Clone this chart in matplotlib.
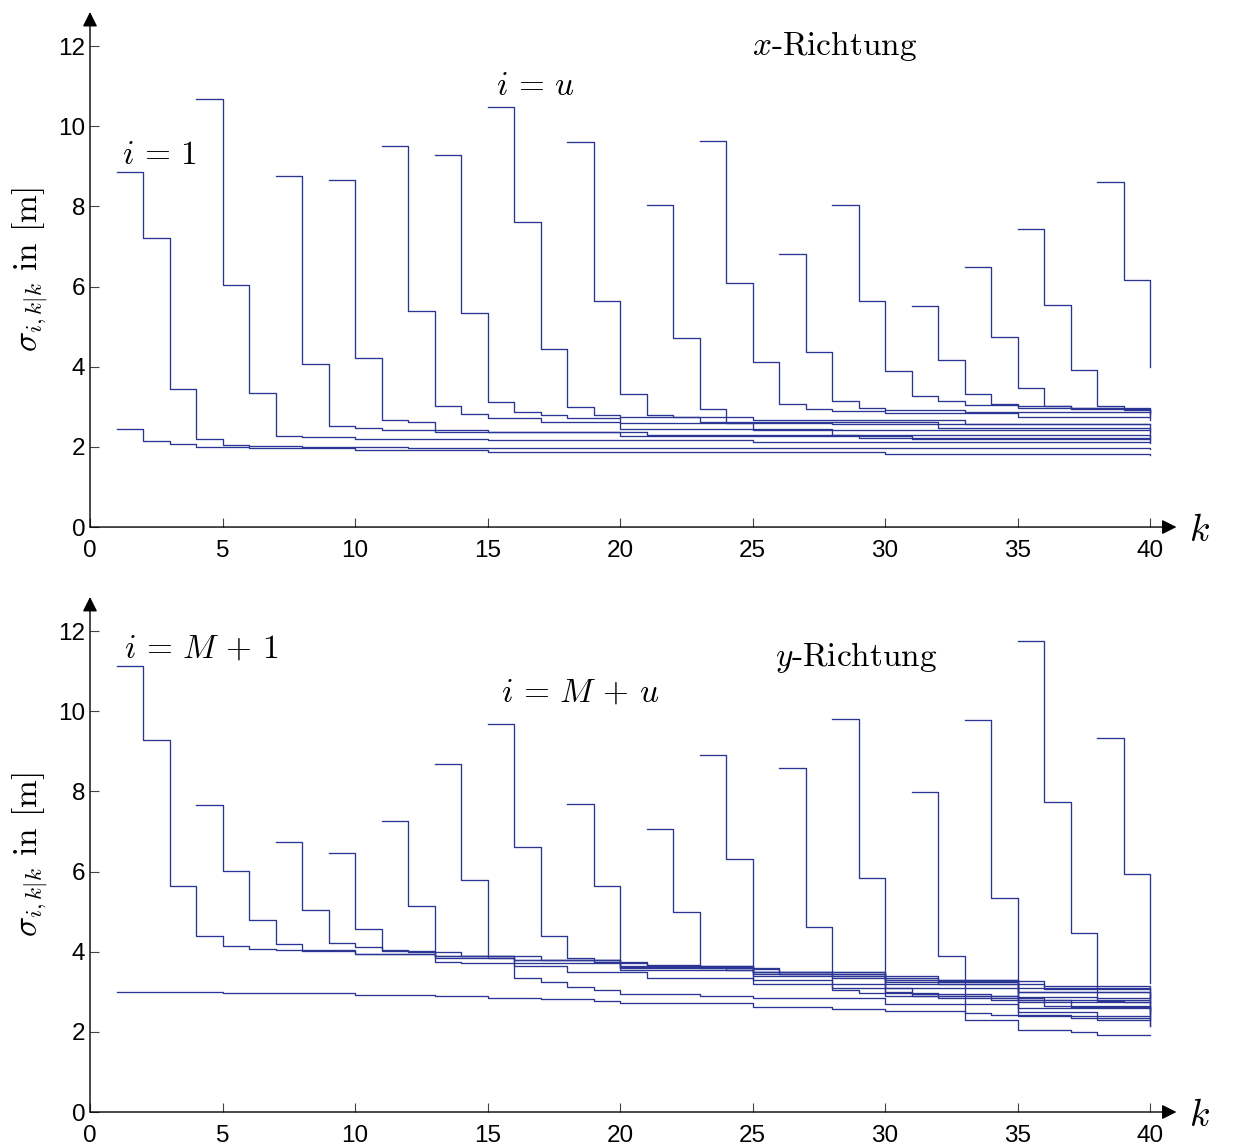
import matplotlib
matplotlib.use("Agg")
import matplotlib.pyplot as plt

# x-Richtung (top panel): each series = step breakpoints (k) and values
xL_k = [1, 2, 3, 4, 6, 10, 15, 20, 30, 40]
xL_v = [2.45, 2.15, 2.07, 2.00, 1.97, 1.92, 1.88, 1.86, 1.83, 1.80]
x01_k = [1, 2, 3, 4, 5, 6, 8, 12, 20, 30, 40]
x01_v = [8.85, 7.20, 3.45, 2.20, 2.05, 2.01, 1.99, 1.98, 1.97, 1.96, 1.95]
x04_k = [4, 5, 6, 7, 8, 10, 15, 25, 40]
x04_v = [10.68, 6.05, 3.35, 2.27, 2.24, 2.20, 2.16, 2.12, 2.10]
x07_k = [7, 8, 9, 10, 11, 13, 20, 31, 40]
x07_v = [8.75, 4.06, 2.53, 2.48, 2.42, 2.36, 2.28, 2.20, 2.13]
x09_k = [9, 10, 11, 12, 13, 15, 21, 29, 40]
x09_v = [8.67, 4.23, 2.66, 2.61, 2.42, 2.37, 2.30, 2.22, 2.17]
x11_k = [11, 12, 13, 14, 15, 17, 20, 28, 40]
x11_v = [9.50, 5.39, 3.01, 2.82, 2.72, 2.62, 2.45, 2.30, 2.21]
x13_k = [13, 14, 15, 16, 17, 18, 20, 25, 40]
x13_v = [9.27, 5.33, 3.11, 2.86, 2.80, 2.72, 2.60, 2.42, 2.25]
x15_k = [15, 16, 17, 18, 19, 20, 23, 32, 40]
x15_v = [10.47, 7.61, 4.43, 2.99, 2.80, 2.74, 2.62, 2.48, 2.37]
x18_k = [18, 19, 20, 21, 22, 25, 33, 40]
x18_v = [9.60, 5.65, 3.31, 2.79, 2.74, 2.66, 2.56, 2.45]
x21_k = [21, 22, 23, 24, 28, 34, 40]
x21_v = [8.03, 4.72, 2.94, 2.60, 2.58, 2.57, 2.56]
x23_k = [23, 24, 25, 26, 27, 28, 30, 35, 40]
x23_v = [9.63, 6.10, 4.13, 3.08, 2.95, 2.90, 2.84, 2.74, 2.66]
x26_k = [26, 27, 28, 29, 30, 33, 40]
x26_v = [6.82, 4.36, 3.15, 2.96, 2.92, 2.86, 2.75]
x28_k = [28, 29, 30, 31, 32, 33, 35, 40]
x28_v = [8.03, 5.63, 3.89, 3.28, 3.14, 3.05, 2.98, 2.80]
x31_k = [31, 32, 33, 34, 35, 37, 40]
x31_v = [5.52, 4.17, 3.33, 3.08, 3.02, 2.95, 2.85]
x33_k = [33, 34, 35, 36, 37, 39, 40]
x33_v = [6.49, 4.73, 3.46, 3.03, 2.98, 2.92, 2.88]
x35_k = [35, 36, 37, 38, 39, 40]
x35_v = [7.43, 5.55, 3.93, 3.03, 2.94, 2.92]
x38_k = [38, 39, 40]
x38_v = [8.62, 6.17, 3.99]

# y-Richtung (bottom panel)
yL_k = [1, 5, 10, 13, 15, 17, 19, 20, 25, 28, 30, 33, 35, 37, 38, 40]
yL_v = [3.00, 2.97, 2.92, 2.89, 2.85, 2.82, 2.78, 2.73, 2.63, 2.58, 2.52, 2.30, 2.05, 2.00, 1.92, 1.92]
y01_k = [1, 2, 3, 4, 5, 6, 7, 10, 13, 16, 20, 25, 28, 31, 35, 38, 40]
y01_v = [11.13, 9.28, 5.65, 4.40, 4.13, 4.06, 4.03, 3.95, 3.85, 3.72, 3.55, 3.30, 3.10, 2.90, 2.50, 2.30, 2.15]
y04_k = [4, 5, 6, 7, 8, 10, 13, 16, 20, 25, 30, 35, 40]
y04_v = [7.67, 6.01, 4.78, 4.18, 4.02, 3.95, 3.88, 3.78, 3.62, 3.45, 3.20, 2.80, 2.38]
y07_k = [7, 8, 9, 10, 11, 13, 16, 20, 25, 30, 35, 40]
y07_v = [6.73, 5.03, 4.21, 4.11, 4.02, 3.90, 3.80, 3.65, 3.50, 3.30, 3.00, 2.59]
y09_k = [9, 10, 11, 12, 14, 17, 20, 25, 30, 35, 40]
y09_v = [6.46, 4.56, 4.04, 3.98, 3.90, 3.78, 3.60, 3.40, 3.10, 2.75, 2.46]
y11_k = [11, 12, 13, 14, 16, 18, 21, 25, 30, 35, 40]
y11_v = [7.27, 5.14, 3.75, 3.72, 3.65, 3.50, 3.35, 3.20, 2.90, 2.60, 2.32]
y13_k = [13, 14, 15, 16, 17, 18, 19, 20, 23, 25, 30, 35, 40]
y13_v = [8.69, 5.79, 3.85, 3.34, 3.24, 3.11, 3.04, 2.95, 2.89, 2.85, 2.70, 2.40, 2.15]
y15_k = [15, 16, 17, 18, 19, 21, 25, 30, 35, 40]
y15_v = [9.67, 6.60, 4.38, 3.83, 3.75, 3.65, 3.50, 3.30, 3.10, 2.75]
y18_k = [18, 19, 20, 21, 23, 26, 30, 35, 40]
y18_v = [7.68, 5.65, 3.71, 3.66, 3.60, 3.45, 3.25, 3.00, 2.81]
y21_k = [21, 22, 23, 24, 25, 28, 32, 36, 40]
y21_v = [7.07, 4.99, 3.63, 3.55, 3.50, 3.35, 3.20, 3.08, 2.99]
y23_k = [23, 24, 25, 26, 28, 32, 36, 40]
y23_v = [8.91, 6.30, 3.56, 3.45, 3.40, 3.28, 3.15, 3.06]
y26_k = [26, 27, 28, 29, 32, 36, 40]
y26_v = [8.59, 4.62, 3.04, 2.98, 2.85, 2.65, 2.42]
y28_k = [28, 29, 30, 31, 34, 37, 40]
y28_v = [9.80, 5.83, 3.00, 2.95, 2.80, 2.62, 2.54]
y31_k = [31, 32, 33, 34, 37, 40]
y31_v = [7.98, 3.90, 2.47, 2.42, 2.35, 2.30]
y33_k = [33, 34, 35, 36, 38, 40]
y33_v = [9.77, 5.35, 2.88, 2.86, 2.84, 2.93]
y35_k = [35, 36, 37, 38, 39, 40]
y35_v = [11.76, 7.73, 4.47, 2.77, 2.75, 2.75]
y38_k = [38, 39, 40]
y38_v = [9.33, 5.93, 3.21]

x_series = [(xL_k, xL_v), (x01_k, x01_v), (x04_k, x04_v), (x07_k, x07_v),
            (x09_k, x09_v), (x11_k, x11_v), (x13_k, x13_v), (x15_k, x15_v),
            (x18_k, x18_v), (x21_k, x21_v), (x23_k, x23_v), (x26_k, x26_v),
            (x28_k, x28_v), (x31_k, x31_v), (x33_k, x33_v), (x35_k, x35_v),
            (x38_k, x38_v)]
y_series = [(yL_k, yL_v), (y01_k, y01_v), (y04_k, y04_v), (y07_k, y07_v),
            (y09_k, y09_v), (y11_k, y11_v), (y13_k, y13_v), (y15_k, y15_v),
            (y18_k, y18_v), (y21_k, y21_v), (y23_k, y23_v), (y26_k, y26_v),
            (y28_k, y28_v), (y31_k, y31_v), (y33_k, y33_v), (y35_k, y35_v),
            (y38_k, y38_v)]

line_col = "#2b3594"
cm_font = "cmr10"

plt.rcParams["mathtext.fontset"] = "cm"
plt.rcParams["font.family"] = ["Liberation Sans", "DejaVu Sans"]


def setup_axes(ax):
    ax.set_xlim(0, 41)
    ax.set_ylim(0, 12.85)
    for s in ax.spines.values():
        s.set_visible(False)
    ax.set_xticks(range(0, 41, 5))
    ax.set_yticks(range(0, 13, 2))
    ax.tick_params(axis="both", direction="in", length=6.5, width=0.8,
                   color="#444444", labelsize=17.5)
    ax.tick_params(axis="x", pad=9)
    ax.tick_params(axis="y", pad=3.5)
    arrow = dict(arrowstyle="-|>", color="black", lw=1.0,
                 shrinkA=0, shrinkB=0, mutation_scale=22)
    ax.annotate("", xy=(1, 0), xytext=(0, 0), xycoords="axes fraction",
                arrowprops=arrow)
    ax.annotate("", xy=(0, 1), xytext=(0, 0), xycoords="axes fraction",
                arrowprops=arrow)
    ax.text(41.85, -0.1, r"$k$", fontsize=27, ha="center", va="center",
            clip_on=False)
    ax.set_ylabel(r"$\sigma_{i,k|k}$ in [m]", family=cm_font, fontsize=24,
                  labelpad=5)


def draw(ax, series):
    for ks, vs in series:
        ax.step(ks, vs, where="post", color=line_col, lw=0.95)


fig = plt.figure(figsize=(12.5, 11.44), dpi=100)
ax1 = fig.add_axes([0.072, 0.5393, 0.8692, 0.4502])
ax2 = fig.add_axes([0.072, 0.02797, 0.8692, 0.4502])

for ax, series in [(ax1, x_series), (ax2, y_series)]:
    setup_axes(ax)
    draw(ax, series)

ax1.text(28.1, 12.0, r"$x$-Richtung", family=cm_font, fontsize=24,
         ha="center", va="center")
ax1.text(16.8, 11.0, r"$i\,=\,u$", fontsize=24, ha="center", va="center")
ax1.text(2.64, 9.26, r"$i\,=\,1$", fontsize=24, ha="center", va="center")

ax2.text(28.9, 11.35, r"$y$-Richtung", family=cm_font, fontsize=24,
         ha="center", va="center")
ax2.text(18.5, 10.45, r"$i\,=\,M\,+\,u$", fontsize=24, ha="center",
         va="center")
ax2.text(4.2, 11.55, r"$i\,=\,M\,+\,1$", fontsize=24, ha="center",
         va="center")

fig.savefig("out.png", dpi=100)
